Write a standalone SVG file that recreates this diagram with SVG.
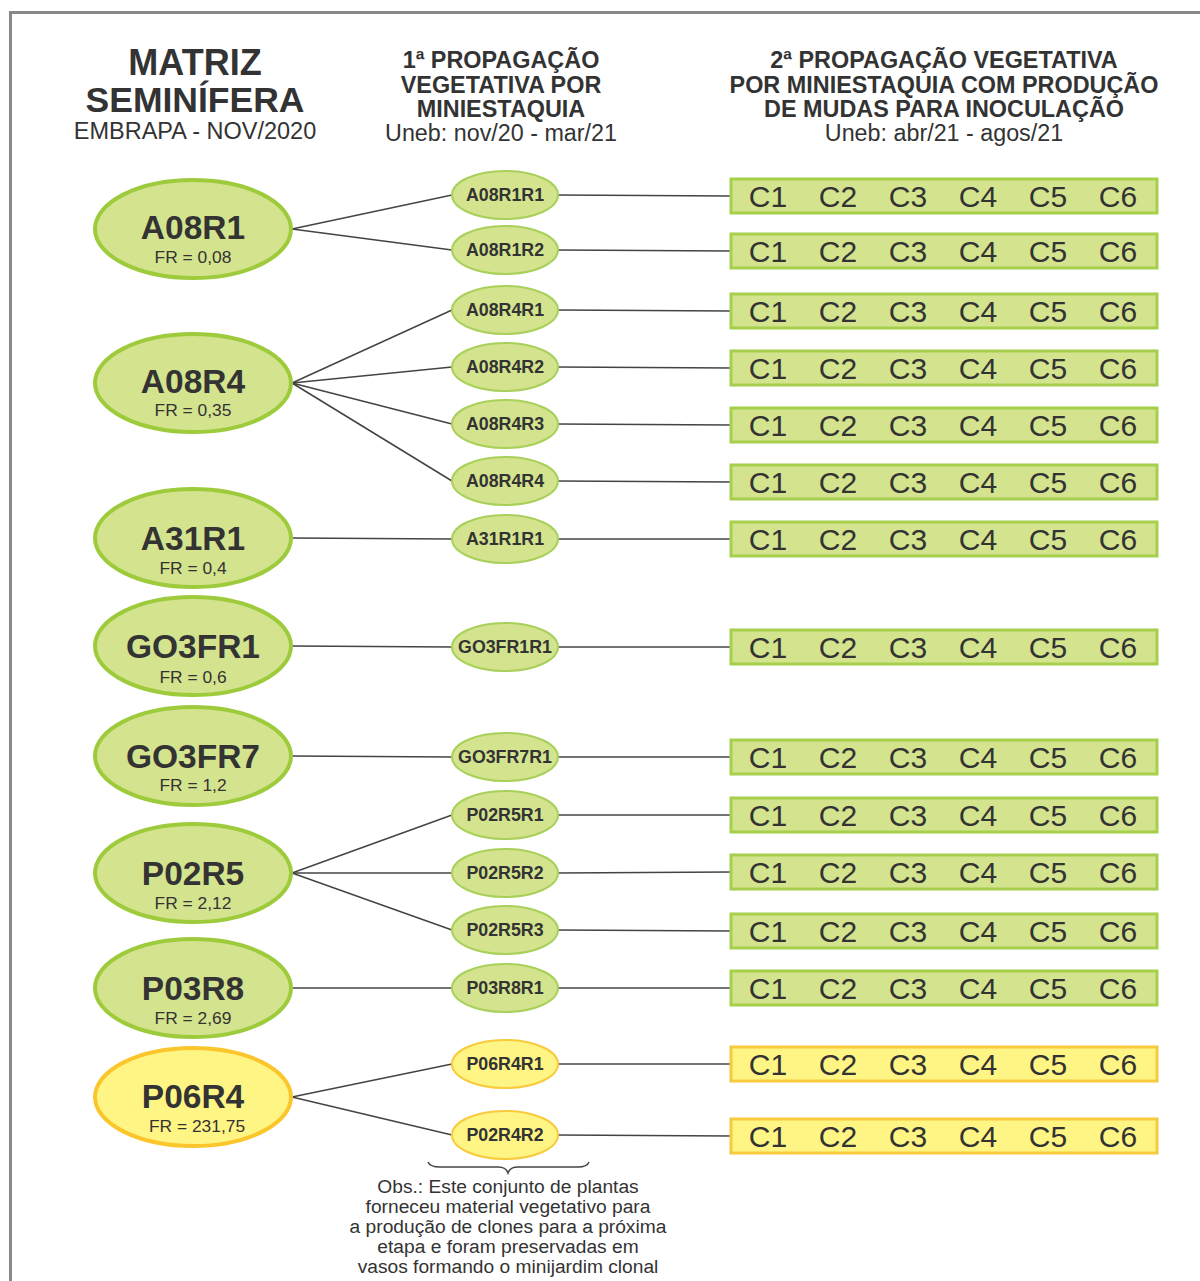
<svg xmlns="http://www.w3.org/2000/svg" width="1200" height="1281" viewBox="0 0 1200 1281">
<style>
text{font-family:"Liberation Sans",Arial,sans-serif;fill:#333;text-anchor:middle}
.hb{font-weight:bold;font-size:23.4px}
.hr{font-size:23.3px}
.big{fill:#d3e38e;stroke:#9ecb3c;stroke-width:4}
.bigy{fill:#fff584;stroke:#fbc52c;stroke-width:4}
.sm{fill:#d3e38e;stroke:#a8d05a;stroke-width:2}
.smy{fill:#fff584;stroke:#f8ca3c;stroke-width:2}
.bar{fill:#d3e38e;stroke:#a6cf4c;stroke-width:3}
.bary{fill:#fff584;stroke:#f8ca3c;stroke-width:3}
.bl{font-weight:bold;font-size:33.5px}
.fr{font-size:17.4px}
.sl{font-weight:bold;font-size:17.8px}
.c{font-size:30px}
.obs{font-size:19.2px}
#connectors line{stroke:#444;stroke-width:1.5}
</style>
<defs>
<g id="cs">
<text x="768" y="11" class="c">C1</text><text x="838" y="11" class="c">C2</text><text x="908" y="11" class="c">C3</text><text x="978" y="11" class="c">C4</text><text x="1048" y="11" class="c">C5</text><text x="1118" y="11" class="c">C6</text>
</g>
</defs>
<rect x="10.5" y="12.5" width="1200" height="1290" fill="none" stroke="#888" stroke-width="3"/>
<g id="headers">
<text x="195" y="75" style="font-weight:bold;font-size:36px">MATRIZ</text>
<text x="195" y="112" style="font-weight:bold;font-size:35.5px">SEMINÍFERA</text>
<text x="195" y="139" style="font-size:23.5px">EMBRAPA - NOV/2020</text>
<text x="501" y="68" class="hb">1ª PROPAGAÇÃO</text>
<text x="501" y="93" class="hb">VEGETATIVA POR</text>
<text x="501" y="117" class="hb">MINIESTAQUIA</text>
<text x="501" y="141" class="hr">Uneb: nov/20 - mar/21</text>
<text x="944" y="68" class="hb">2ª PROPAGAÇÃO VEGETATIVA</text>
<text x="944" y="93" class="hb">POR MINIESTAQUIA COM PRODUÇÃO</text>
<text x="944" y="117" class="hb">DE MUDAS PARA INOCULAÇÃO</text>
<text x="944" y="141" class="hr">Uneb: abr/21 - agos/21</text>
</g>
<g id="connectors">
<line x1="292" y1="229" x2="452" y2="195"/><line x1="292" y1="229" x2="452" y2="250"/>
<line x1="292" y1="383" x2="452" y2="310"/><line x1="292" y1="383" x2="452" y2="367"/><line x1="292" y1="383" x2="452" y2="424"/><line x1="292" y1="383" x2="452" y2="481"/>
<line x1="292" y1="538" x2="452" y2="539"/>
<line x1="292" y1="646" x2="452" y2="647"/>
<line x1="292" y1="756" x2="452" y2="757"/>
<line x1="292" y1="873" x2="452" y2="815"/><line x1="292" y1="873" x2="452" y2="873"/><line x1="292" y1="873" x2="452" y2="930"/>
<line x1="292" y1="988" x2="452" y2="988"/>
<line x1="292" y1="1097" x2="452" y2="1064"/><line x1="292" y1="1097" x2="452" y2="1135"/>
<line x1="558" y1="195" x2="731" y2="196"/><line x1="558" y1="250" x2="731" y2="251"/><line x1="558" y1="310" x2="731" y2="311"/><line x1="558" y1="367" x2="731" y2="368"/><line x1="558" y1="424" x2="731" y2="425"/><line x1="558" y1="481" x2="731" y2="482"/><line x1="558" y1="539" x2="731" y2="539"/><line x1="558" y1="647" x2="731" y2="647"/><line x1="558" y1="757" x2="731" y2="757"/><line x1="558" y1="815" x2="731" y2="815"/><line x1="558" y1="873" x2="731" y2="872"/><line x1="558" y1="930" x2="731" y2="931"/><line x1="558" y1="988" x2="731" y2="988"/><line x1="558" y1="1064" x2="731" y2="1064"/><line x1="558" y1="1135" x2="731" y2="1136"/>
</g>
<g id="A08R1"><ellipse cx="193" cy="229" rx="98" ry="49" class="big"/><text x="193" y="239" class="bl">A08R1</text><text x="193" y="263" class="fr">FR = 0,08</text></g>
<g id="A08R4"><ellipse cx="193" cy="383" rx="98" ry="49" class="big"/><text x="193" y="393" class="bl">A08R4</text><text x="193" y="416" class="fr">FR = 0,35</text></g>
<g id="A31R1"><ellipse cx="193" cy="538" rx="98" ry="49" class="big"/><text x="193" y="550" class="bl">A31R1</text><text x="193" y="574" class="fr">FR = 0,4</text></g>
<g id="GO3FR1"><ellipse cx="193" cy="646" rx="98" ry="49" class="big"/><text x="193" y="658" class="bl">GO3FR1</text><text x="193" y="683" class="fr">FR = 0,6</text></g>
<g id="GO3FR7"><ellipse cx="193" cy="756" rx="98" ry="49" class="big"/><text x="193" y="768" class="bl">GO3FR7</text><text x="193" y="791" class="fr">FR = 1,2</text></g>
<g id="P02R5"><ellipse cx="193" cy="873" rx="98" ry="49" class="big"/><text x="193" y="885" class="bl">P02R5</text><text x="193" y="909" class="fr">FR = 2,12</text></g>
<g id="P03R8"><ellipse cx="193" cy="988" rx="98" ry="49" class="big"/><text x="193" y="1000" class="bl">P03R8</text><text x="193" y="1024" class="fr">FR = 2,69</text></g>
<g id="P06R4"><ellipse cx="193" cy="1097" rx="98" ry="49" class="bigy"/><text x="193" y="1108" class="bl">P06R4</text><text x="197" y="1132" class="fr">FR = 231,75</text></g>
<g id="A08R1R1"><ellipse cx="505" cy="195" rx="53" ry="24" class="sm"/><text x="505" y="201" class="sl">A08R1R1</text></g>
<g id="A08R1R2"><ellipse cx="505" cy="250" rx="53" ry="24" class="sm"/><text x="505" y="256" class="sl">A08R1R2</text></g>
<g id="A08R4R1"><ellipse cx="505" cy="310" rx="53" ry="24" class="sm"/><text x="505" y="316" class="sl">A08R4R1</text></g>
<g id="A08R4R2"><ellipse cx="505" cy="367" rx="53" ry="24" class="sm"/><text x="505" y="373" class="sl">A08R4R2</text></g>
<g id="A08R4R3"><ellipse cx="505" cy="424" rx="53" ry="24" class="sm"/><text x="505" y="430" class="sl">A08R4R3</text></g>
<g id="A08R4R4"><ellipse cx="505" cy="481" rx="53" ry="24" class="sm"/><text x="505" y="487" class="sl">A08R4R4</text></g>
<g id="A31R1R1"><ellipse cx="505" cy="539" rx="53" ry="24" class="sm"/><text x="505" y="545" class="sl">A31R1R1</text></g>
<g id="GO3FR1R1"><ellipse cx="505" cy="647" rx="53" ry="24" class="sm"/><text x="505" y="653" class="sl">GO3FR1R1</text></g>
<g id="GO3FR7R1"><ellipse cx="505" cy="757" rx="53" ry="24" class="sm"/><text x="505" y="763" class="sl">GO3FR7R1</text></g>
<g id="P02R5R1"><ellipse cx="505" cy="815" rx="53" ry="24" class="sm"/><text x="505" y="821" class="sl">P02R5R1</text></g>
<g id="P02R5R2"><ellipse cx="505" cy="873" rx="53" ry="24" class="sm"/><text x="505" y="879" class="sl">P02R5R2</text></g>
<g id="P02R5R3"><ellipse cx="505" cy="930" rx="53" ry="24" class="sm"/><text x="505" y="936" class="sl">P02R5R3</text></g>
<g id="P03R8R1"><ellipse cx="505" cy="988" rx="53" ry="24" class="sm"/><text x="505" y="994" class="sl">P03R8R1</text></g>
<g id="P06R4R1"><ellipse cx="505" cy="1064" rx="53" ry="24" class="smy"/><text x="505" y="1070" class="sl">P06R4R1</text></g>
<g id="P02R4R2"><ellipse cx="505" cy="1135" rx="53" ry="24" class="smy"/><text x="505" y="1141" class="sl">P02R4R2</text></g>
<g id="bars">
<g id="bar1"><rect x="731" y="179" width="426" height="34" class="bar"/><use href="#cs" y="196"/></g>
<g id="bar2"><rect x="731" y="234" width="426" height="34" class="bar"/><use href="#cs" y="251"/></g>
<g id="bar3"><rect x="731" y="294" width="426" height="34" class="bar"/><use href="#cs" y="311"/></g>
<g id="bar4"><rect x="731" y="351" width="426" height="34" class="bar"/><use href="#cs" y="368"/></g>
<g id="bar5"><rect x="731" y="408" width="426" height="34" class="bar"/><use href="#cs" y="425"/></g>
<g id="bar6"><rect x="731" y="465" width="426" height="34" class="bar"/><use href="#cs" y="482"/></g>
<g id="bar7"><rect x="731" y="522" width="426" height="34" class="bar"/><use href="#cs" y="539"/></g>
<g id="bar8"><rect x="731" y="630" width="426" height="34" class="bar"/><use href="#cs" y="647"/></g>
<g id="bar9"><rect x="731" y="740" width="426" height="34" class="bar"/><use href="#cs" y="757"/></g>
<g id="bar10"><rect x="731" y="798" width="426" height="34" class="bar"/><use href="#cs" y="815"/></g>
<g id="bar11"><rect x="731" y="855" width="426" height="34" class="bar"/><use href="#cs" y="872"/></g>
<g id="bar12"><rect x="731" y="914" width="426" height="34" class="bar"/><use href="#cs" y="931"/></g>
<g id="bar13"><rect x="731" y="971" width="426" height="34" class="bar"/><use href="#cs" y="988"/></g>
<g id="bar14"><rect x="731" y="1047" width="426" height="34" class="bary"/><use href="#cs" y="1064"/></g>
<g id="bar15"><rect x="731" y="1119" width="426" height="34" class="bary"/><use href="#cs" y="1136"/></g>
</g>
<g id="note">
<path d="M428 1162 Q430 1167 440 1167 L498 1167 Q506 1167 508 1173 Q510 1167 518 1167 L578 1167 Q587 1167 589 1162" fill="none" stroke="#444" stroke-width="1.5"/>
<text x="508" y="1193" class="obs">Obs.: Este conjunto de plantas</text>
<text x="508" y="1213" class="obs">forneceu material vegetativo para</text>
<text x="508" y="1233" class="obs">a produção de clones para a próxima</text>
<text x="508" y="1253" class="obs">etapa e foram preservadas em</text>
<text x="508" y="1273" class="obs">vasos formando o minijardim clonal</text>
</g>
</svg>
